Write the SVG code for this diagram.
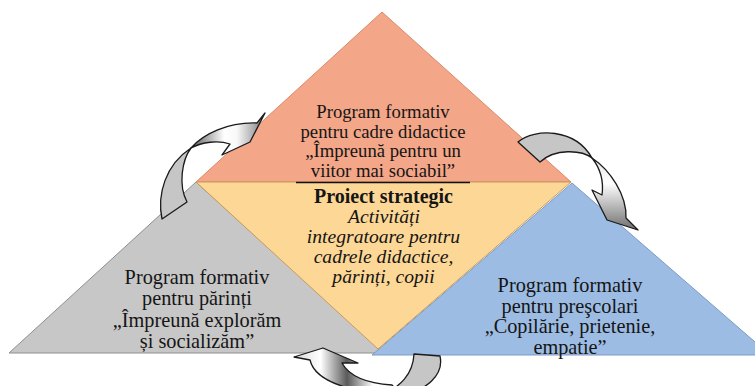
<svg xmlns="http://www.w3.org/2000/svg" width="755" height="386" viewBox="0 0 755 386">
<defs>
<style>
.t{font-family:"Liberation Serif","Times New Roman",serif;fill:#151515;text-anchor:middle}
.s{font-size:18.7px}
.m{font-size:20.3px}
.c{font-size:19.6px}
.b{font-weight:bold}
.i{font-style:italic}
.arr{stroke:#1a1a1a;stroke-width:1.3;stroke-linejoin:round}
.back{fill:#c6c6c6}
</style>
<linearGradient id="g1" x1="0" y1="0" x2="1" y2="0">
<stop offset="0" stop-color="#5a5a5a"/><stop offset="0.45" stop-color="#ffffff"/><stop offset="0.62" stop-color="#f8f8f8"/><stop offset="1" stop-color="#7a7a7a"/>
</linearGradient>
<linearGradient id="g2" x1="0" y1="0" x2="0" y2="1">
<stop offset="0" stop-color="#e2e2e2"/><stop offset="0.35" stop-color="#ffffff"/><stop offset="1" stop-color="#6e6e6e"/>
</linearGradient>
<linearGradient id="g3" x1="0" y1="0" x2="1" y2="0">
<stop offset="0" stop-color="#d8d8d8"/><stop offset="0.25" stop-color="#ffffff"/><stop offset="0.5" stop-color="#5a5a5a"/><stop offset="0.75" stop-color="#ffffff"/><stop offset="1" stop-color="#e8e8e8"/>
</linearGradient>
</defs>
<rect width="755" height="386" fill="#ffffff"/>
<g id="node-cadre">
<polygon points="382,12 196,182 571,182" fill="#F3A688" stroke="#d9896a" stroke-width="1"/>
<text class="t s" x="383" y="118">Program formativ</text>
<text class="t s" x="383" y="137.6">pentru cadre didactice</text>
<text class="t s" x="383" y="157.2">„Împreună pentru un</text>
<text class="t s" x="383" y="176.8">viitor mai sociabil”</text>
</g>
<g id="node-parinti">
<polygon points="196,182 9,353 384,353" fill="#C7C7C7" stroke="#8e8e8e" stroke-width="1"/>
<text class="t m" x="197" y="284">Program formativ</text>
<text class="t m" x="197" y="305.4">pentru părinți</text>
<text class="t m" x="197" y="326.8">„Împreună explorăm</text>
<text class="t m" x="197" y="348.2">și socializăm”</text>
</g>
<g id="node-prescolari">
<polygon points="572,183 372,355 770,355" fill="#9DBCE3" stroke="#7a9bc6" stroke-width="1"/>
<text class="t m" x="570" y="292">Program formativ</text>
<text class="t m" x="570" y="312.5">pentru preşcolari</text>
<text class="t m" x="570" y="333">„Copilărie, prietenie,</text>
<text class="t m" x="570" y="353.5">empatie”</text>
</g>
<g id="node-proiect">
<polygon points="196,182 571,182 378,349" fill="#FDD795" stroke="#c99a5b" stroke-width="1"/>
<line x1="296" y1="182.5" x2="470" y2="182.5" stroke="#111" stroke-width="1.6"/>
<text class="t b" style="font-size:20px" x="383.5" y="203.3">Proiect strategic</text>
<text class="t i c" x="384" y="223.1">Activități</text>
<text class="t i c" x="383.5" y="242.9">integratoare pentru</text>
<text class="t i c" x="383.5" y="262.7">cadrele didactice,</text>
<text class="t i c" x="383.5" y="283.4">părinți, copii</text>
</g>
<g id="connectors">
<g id="arrow-parinti-cadre">
<path class="arr back" d="M162,219 C157,195 165,165 191,148 C182,160 178,185 187,202 Z"/>
<path class="arr" fill="url(#g1)" d="M191,148 C203,134 228,122 257,123 L265,113 L250,142 L222,155 L230,144 C218,140 202,142 191,148 Z"/>
</g>
<g id="arrow-cadre-prescolari">
<path class="arr back" d="M518,142 C535,128 575,128 592,158 C582,150 555,148 540,162 Z"/>
<path class="arr" fill="url(#g2)" d="M592,158 C610,170 627,195 626,218 L638,230 L607,220 L592,190 L602,195 C604,180 600,168 592,158 Z"/>
</g>
<g id="arrow-prescolari-parinti">
<path class="arr back" d="M414,354 L440,356 C444,374 428,392 395,396 L382,396 C400,386 413,375 414,354 Z"/>
<path class="arr" fill="url(#g3)" d="M310,360 L294,357 L323,348 L358,363 L342,363 C348,374 362,383 392,385 L400,394 C368,395 316,386 310,360 Z"/>
</g>
</g>
</svg>
